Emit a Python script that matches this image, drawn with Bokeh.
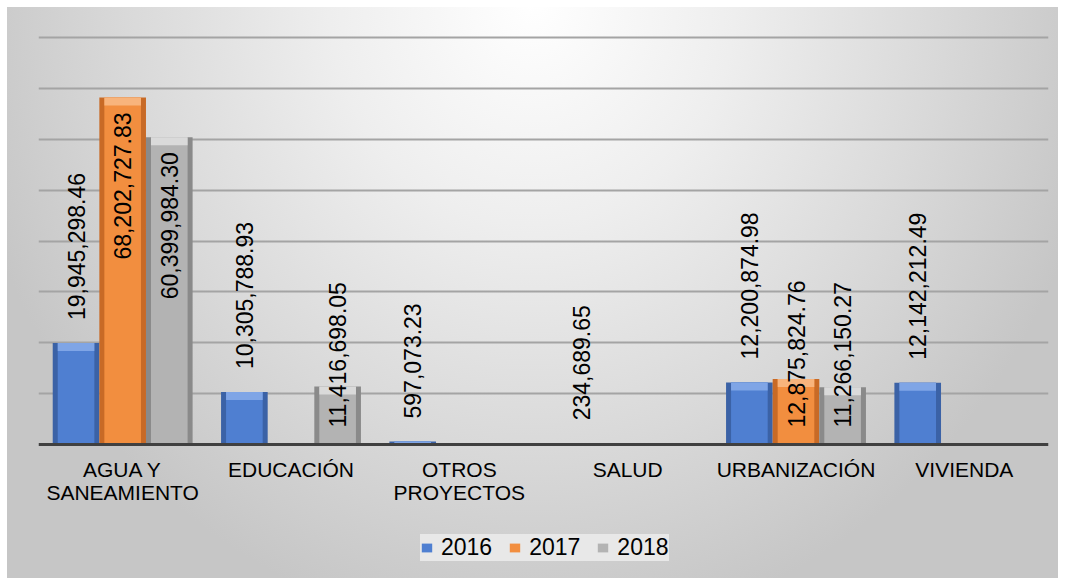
import math
from bokeh.plotting import figure
from bokeh.models import ColumnDataSource, FactorRange, Range1d, FixedTicker, Legend, LegendItem
from bokeh.transform import dodge
from bokeh.core.properties import value
from bokeh.embed import file_html
from bokeh.resources import INLINE

# ---- data ----
categories = ["AGUA Y\nSANEAMIENTO", "EDUCACIÓN", "OTROS\nPROYECTOS", "SALUD", "URBANIZACIÓN", "VIVIENDA"]
years = ["2016", "2017", "2018"]
v2016 = [19945298.46, 10305788.93, 597073.23, 234689.65, 12200874.98, 12142212.49]
v2017 = [68202727.83, None, None, None, 12875824.76, None]
v2018 = [60399984.30, 11416698.05, None, None, 11266150.27, None]
grid_ticks = [10e6, 20e6, 30e6, 40e6, 50e6, 60e6, 70e6, 80e6]

series = [v2016, v2017, v2018]
mid_colors = ["#4f7fd1", "#f28e3f", "#b3b3b3"]
dark_colors = ["#3b62a6", "#c86a26", "#8a8a8a"]
light_colors = ["#7fa5e6", "#f8b47c", "#dadada"]

FONT = "Liberation Sans"
LEFT, RIGHT, TOP = 38, 10, 30
FRAME_W = 1010
ABOVE_PX = 414        # frame pixels above the zero baseline
BELOW_PX = 146        # frame pixels below the zero baseline (room for labels + legend)
GRID_TOP_PX = 407     # pixel height of the 80M gridline above the baseline
YMAX = 80e6
upp = YMAX / GRID_TOP_PX
xpp = len(categories) / FRAME_W

p = figure(x_range=FactorRange(*categories),
           y_range=Range1d(-BELOW_PX * upp, ABOVE_PX * upp),
           frame_width=FRAME_W, frame_height=ABOVE_PX + BELOW_PX,
           output_backend="svg", toolbar_location=None,
           min_border_left=LEFT, min_border_right=RIGHT,
           min_border_top=TOP, min_border_bottom=0)
p.background_fill_alpha = 0
p.border_fill_alpha = 0
p.outline_line_color = None
p.styles = {"background": (
    "linear-gradient(#ffffff, #ffffff) left top / 100% 7px no-repeat, "
    "linear-gradient(#ffffff, #ffffff) left top / 7px 100% no-repeat, "
    "radial-gradient(ellipse 580px 640px at 532px 0px, #ffffff 0%, #eeeeee 35%, #d9d9d9 70%, #c6c6c6 100%)")}

p.yaxis.visible = False
p.xgrid.grid_line_color = None
p.ygrid.ticker = FixedTicker(ticks=grid_ticks)
p.ygrid.grid_line_color = "#a4a4a4"
p.ygrid.grid_line_width = 2

ax = p.xaxis[0]
ax.fixed_location = 0
ax.axis_line_color = "#404040"
ax.axis_line_width = 3
ax.major_tick_line_color = None
ax.minor_tick_line_color = None
ax.major_tick_out = 0
ax.major_tick_in = 0
ax.major_label_text_font = FONT
ax.major_label_text_font_size = "21px"
ax.major_label_text_color = "#000000"
ax.major_label_text_line_height = 1.0
ax.major_label_standoff = 13

bw = 0.277
side = 5 * xpp
strip = 8 * upp
label_font_px = 23
label_len_px = 150
pad_out = 23
pad_in = 15
floor_px = 17

legend_items = []
for i, (vals, yr) in enumerate(zip(series, years)):
    xs = [c for c, v in zip(categories, vals) if v is not None]
    tops = [v for v in vals if v is not None]
    strip_bottom = [max(0.0, t - strip) for t in tops]
    src = ColumnDataSource(dict(x=xs, top=tops, sb=strip_bottom))
    off = (i - 1) * bw
    xd = dodge("x", off, range=p.x_range)
    p.vbar(x=xd, top="top", width=bw, source=src, fill_color=dark_colors[i], line_color=None)
    main = p.vbar(x=xd, top="top", width=bw - 2 * side, source=src,
                  fill_color=mid_colors[i], line_color=None)
    p.vbar(x=xd, top="top", bottom="sb", width=bw - 2 * side, source=src,
           fill_color=light_colors[i], line_color=None)
    legend_items.append(LegendItem(label=yr, renderers=[main]))

    # data labels
    out_x, out_y, out_t = [], [], []
    in_x, in_y, in_t = [], [], []
    for c, v in zip(xs, tops):
        txt = f"{v:,.2f}"
        vpx = v / upp
        if i == 0:
            out_x.append(c); out_y.append(v + pad_out * upp); out_t.append(txt)
        elif vpx - pad_in - label_len_px >= floor_px:
            in_x.append(c); in_y.append(v - pad_in * upp); in_t.append(txt)
        else:
            out_x.append(c); out_y.append(floor_px * upp); out_t.append(txt)
    for xx, yy, tt, align in ((out_x, out_y, out_t, "left"), (in_x, in_y, in_t, "right")):
        if not xx:
            continue
        ls = ColumnDataSource(dict(x=xx, y=yy, t=tt))
        p.text(x=dodge("x", off, range=p.x_range), y="y", text="t", source=ls,
               angle=math.pi / 2, text_align=align, text_baseline="middle",
               text_font=value(FONT), text_font_size=f"{label_font_px}px",
               text_color="#000000")

legend = Legend(items=legend_items, orientation="horizontal",
                location=(382, BELOW_PX - 117),
                label_text_font=FONT, label_text_font_size="23px",
                label_text_color="#000000",
                glyph_width=13, glyph_height=11, label_standoff=8,
                spacing=16, padding=13, margin=0,
                background_fill_color="#e8e8e8", background_fill_alpha=1,
                border_line_color=None)
p.add_layout(legend, "center")

open("out.html", "w").write(file_html(p, INLINE))
